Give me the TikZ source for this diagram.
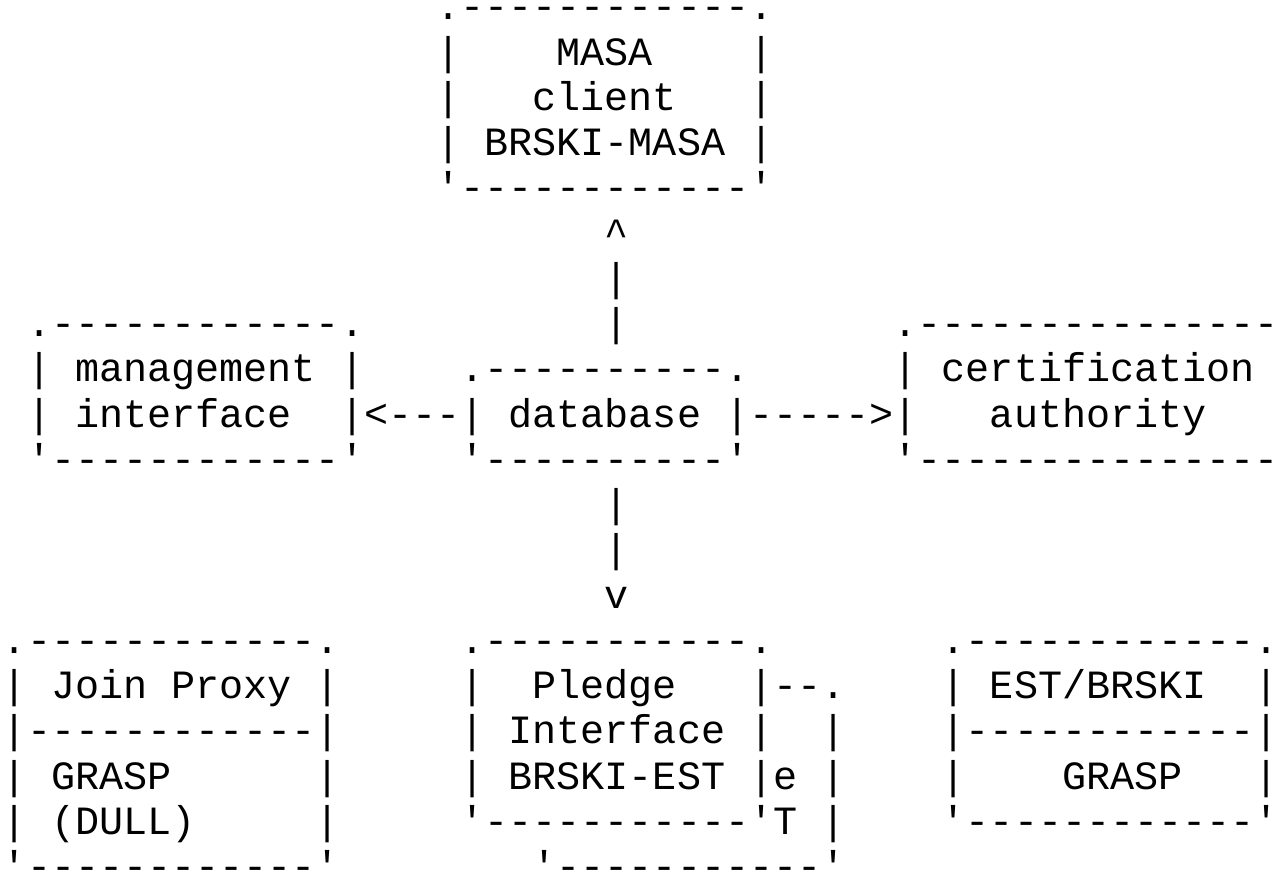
\documentclass[tikz,border=0pt]{standalone}
\usepackage{fontspec}
\setmonofont{Liberation Mono}
\usepackage{tikz}
\tikzset{
  ascii/.style={font=\fontsize{10.03pt}{11.31pt}\selectfont\ttfamily\frenchspacing, inner sep=0pt, outer sep=0pt, anchor=base west, text=black}
}

\begin{document}
\begin{tikzpicture}[x=6.018pt, y=-11.3125pt]
  % Page
  \fill[white] (-0.75pt, 4.94pt) rectangle (317.75pt, -212.81pt);
  \useasboundingbox (-0.75pt, 4.94pt) rectangle (317.75pt, -212.81pt);

  % MASA client (top)
  \node[ascii] (masa0) at (18,0) {.------------.};
  \node[ascii] (masa1) at (18,1) {|~~~~MASA~~~~|};
  \node[ascii] (masa2) at (18,2) {|~~~client~~~|};
  \node[ascii] (masa3) at (18,3) {|~BRSKI-MASA~|};
  \node[ascii] (masa4) at (18,4) {'------------'};

  % Link up to MASA
  \node[ascii] (up0) at (25,5) {\textasciicircum};
  \node[ascii] (up1) at (25,6) {|};
  \node[ascii] (up2) at (25,7) {|};

  % Management interface (left)
  \node[ascii] (mgmt0) at (1,7) {.------------.};
  \node[ascii] (mgmt1) at (1,8) {|~management~|};
  \node[ascii] (mgmt2) at (1,9) {|~interface~~|};
  \node[ascii] (mgmt3) at (1,10) {'------------'};

  % Database (centre) and its links
  \node[ascii] (db0) at (19,8) {.----------.};
  \node[ascii] (db1) at (19,9) {|~database~|};
  \node[ascii] (db2) at (19,10) {'----------'};
  \node[ascii] (tomgmt) at (15,9) {<---};
  \node[ascii] (toca) at (31,9) {----->};

  % Certification authority (right)
  \node[ascii] (ca0) at (37,7) {.---------------};
  \node[ascii] (ca1) at (37,8) {|~certification};
  \node[ascii] (ca2) at (37,9) {|~~~authority};
  \node[ascii] (ca3) at (37,10) {'---------------};

  % Link down to pledge interface
  \node[ascii] (dn0) at (25,11) {|};
  \node[ascii] (dn1) at (25,12) {|};
  \node[ascii] (dn2) at (25,13) {v};

  % Join proxy (bottom left)
  \node[ascii] (jp0) at (0,14) {.------------.};
  \node[ascii] (jp1) at (0,15) {|~Join~Proxy~|};
  \node[ascii] (jp2) at (0,16) {|------------|};
  \node[ascii] (jp3) at (0,17) {|~GRASP~~~~~~|};
  \node[ascii] (jp4) at (0,18) {|~(DULL)~~~~~|};
  \node[ascii] (jp5) at (0,19) {'------------'};

  % Pledge interface (bottom centre)
  \node[ascii] (pl0) at (19,14) {.-----------.};
  \node[ascii] (pl1) at (19,15) {|~~Pledge~~~|};
  \node[ascii] (pl2) at (19,16) {|~Interface~|};
  \node[ascii] (pl3) at (19,17) {|~BRSKI-EST~|};
  \node[ascii] (pl4) at (19,18) {'-----------'};

  % Side loop
  \node[ascii] (lp0) at (32,15) {--.};
  \node[ascii] (lp1) at (34,16) {|};
  \node[ascii] (lp2) at (32,17) {e~|};
  \node[ascii] (lp3) at (32,18) {T~|};
  \node[ascii] (lp4) at (22,19) {'-----------'};

  % EST/BRSKI (bottom right)
  \node[ascii] (est0) at (39,14) {.------------.};
  \node[ascii] (est1) at (39,15) {|~EST/BRSKI~~|};
  \node[ascii] (est2) at (39,16) {|------------|};
  \node[ascii] (est3) at (39,17) {|~~~~GRASP~~~|};
  \node[ascii] (est4) at (39,18) {'------------'};
\end{tikzpicture}
\end{document}
